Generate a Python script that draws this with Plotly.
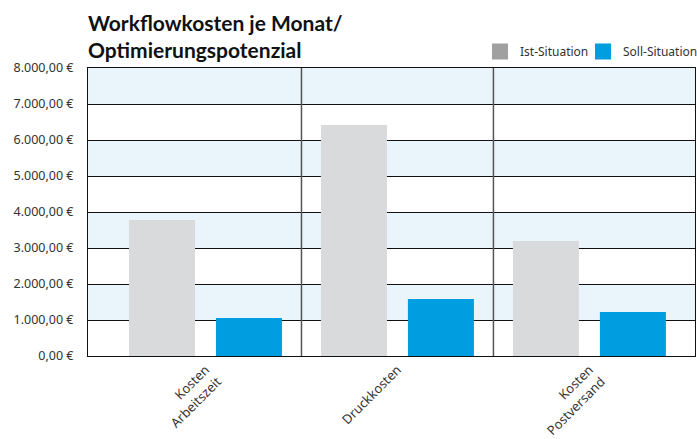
import plotly.graph_objects as go

categories = ["Kosten<br>Arbeitszeit", "Druckkosten", "Kosten<br>Postversand"]
ist_values = [3780, 6420, 3195]
soll_values = [1055, 1580, 1220]
series_names = ["Ist-Situation", "Soll-Situation"]
bar_colors = ["#D9DADB", "#009EE0"]
legend_colors = ["#A0A0A0", "#009EE0"]
y_ticks = [0, 1000, 2000, 3000, 4000, 5000, 6000, 7000, 8000]
band_ranges = [(1000, 2000), (3000, 4000), (5000, 6000), (7000, 8000)]
title_text = "<b>Workflowkosten je Monat/<br>Optimierungspotenzial</b>"


def euro(v):
    s = f"{v:,.2f}".replace(",", "X").replace(".", ",").replace("X", ".")
    return s + " \u20ac"


y_ticktext = [euro(v) for v in y_ticks]

FONT = "Noto Sans"
TITLE_FONT = "Lato"

W, H = 697, 439
L, R, T, B = 88, 2, 68, 83
plot_w = W - L - R
plot_h = H - T - B

fig = go.Figure()
for name, vals, col in zip(series_names, [ist_values, soll_values], bar_colors):
    fig.add_trace(go.Bar(x=list(range(len(categories))), y=vals, name=name,
                         marker=dict(color=col, line=dict(width=0)),
                         showlegend=False))
legend_ids = ["legend", "legend2"]
for name, col, lg in zip(series_names, legend_colors, legend_ids):
    fig.add_trace(go.Scatter(x=[None], y=[None], mode="markers", name=name,
                             legend=lg,
                             marker=dict(symbol="square", size=17, color=col)))

shapes = []
for lo, hi in band_ranges:
    shapes.append(dict(type="rect", xref="paper", yref="y", x0=0, x1=1, y0=lo, y1=hi,
                       fillcolor="#EAF4FB", line=dict(width=0), layer="below"))
for b in [0.5, 1.5]:
    shapes.append(dict(type="line", xref="x", yref="paper", x0=b, x1=b, y0=0, y1=1,
                       line=dict(color="#555555", width=1.5), layer="above"))

fig.add_annotation(text=title_text, xref="paper", yref="paper", x=-0.003,
                   y=(H - B - 8) / plot_h,
                   xanchor="left", yanchor="top", align="left", showarrow=False,
                   font=dict(family=TITLE_FONT, size=21, color="#111111"))

legend_common = dict(orientation="h", xanchor="left",
                     y=(H - B - 51.5) / plot_h, yanchor="middle",
                     font=dict(family=FONT, size=12, color="#333333"),
                     itemwidth=30, bgcolor="rgba(0,0,0,0)")

fig.update_layout(
    width=W, height=H,
    margin=dict(l=L, r=R, t=T, b=B, autoexpand=False),
    paper_bgcolor="white", plot_bgcolor="white",
    barmode="group", bargap=0.094, bargroupgap=0.241,
    font=dict(family=FONT, size=12, color="#333333"),
    shapes=shapes,
    legend=dict(x=(480 - L) / plot_w, **legend_common),
    legend2=dict(x=(583 - L) / plot_w, **legend_common),
    xaxis=dict(tickmode="array", tickvals=list(range(len(categories))), ticktext=categories,
               range=[-0.612, 2.55], tickangle=-45, showline=True, mirror=True,
               linecolor="#111111", linewidth=1, showgrid=False, ticks="",
               automargin=False,
               tickfont=dict(family=FONT, size=13, color="#333333")),
    yaxis=dict(range=[0, 8000], tickmode="array", tickvals=y_ticks, ticktext=y_ticktext,
               showline=True, mirror=True, linecolor="#111111", linewidth=1,
               showgrid=True, gridcolor="#111111", gridwidth=1, zeroline=False,
               ticks="", ticklabelstandoff=11, automargin=False,
               tickfont=dict(family=FONT, size=12.5, color="#333333")),
)

fig.write_html("out.html", config={"displayModeBar": False},
               post_script="document.body.style.margin='0';document.body.style.overflow='hidden';")
